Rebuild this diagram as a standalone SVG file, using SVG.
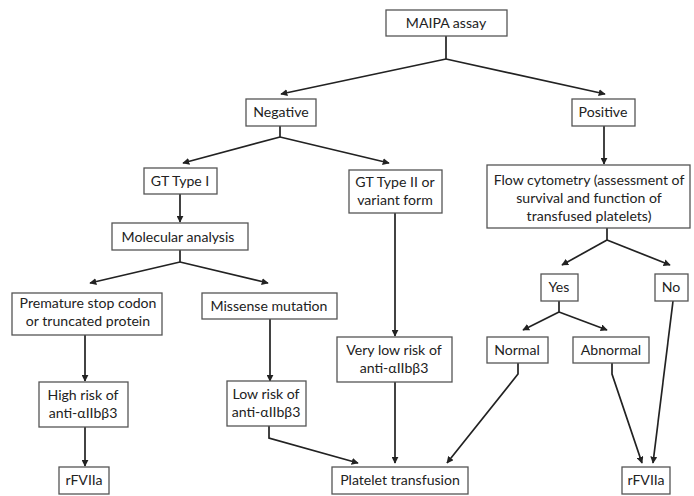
<svg xmlns="http://www.w3.org/2000/svg" width="694" height="496" viewBox="0 0 694 496">
<style>
.box{fill:#fff;stroke:#555;stroke-width:1.3}
.t{font-family:Lato,"Open Sans","Liberation Sans",sans-serif;font-size:14.1px;fill:#222;text-anchor:middle}
.c{fill:none;stroke:#222;stroke-width:1.7}
</style>
<defs>
<marker id="ah" viewBox="0 0 10 10" refX="9" refY="5" markerWidth="7" markerHeight="7" markerUnits="userSpaceOnUse" orient="auto">
<path d="M0,0 L10,5 L0,10 z" fill="#222"/>
</marker>
</defs>
<rect width="694" height="496" fill="#fff"/>
<g id="connectors">
<path class="c" d="M446,36 V59"/>
<path class="c" d="M446,59 L281,94" marker-end="url(#ah)"/>
<path class="c" d="M446,59 L605,94" marker-end="url(#ah)"/>
<path class="c" d="M280,126 V137"/>
<path class="c" d="M280,137 L183,163" marker-end="url(#ah)"/>
<path class="c" d="M280,137 L389,163" marker-end="url(#ah)"/>
<path class="c" d="M604,126 V164" marker-end="url(#ah)"/>
<path class="c" d="M607,228 V240"/>
<path class="c" d="M607,240 L562,265" marker-end="url(#ah)"/>
<path class="c" d="M607,240 L670,265" marker-end="url(#ah)"/>
<path class="c" d="M180,194 V222" marker-end="url(#ah)"/>
<path class="c" d="M180,250 V262"/>
<path class="c" d="M180,262 L90,283" marker-end="url(#ah)"/>
<path class="c" d="M180,262 L268,283" marker-end="url(#ah)"/>
<path class="c" d="M85,335 V381" marker-end="url(#ah)"/>
<path class="c" d="M85,427 V466" marker-end="url(#ah)"/>
<path class="c" d="M270,319 V381" marker-end="url(#ah)"/>
<path class="c" d="M269,426 V438 L358,463" marker-end="url(#ah)"/>
<path class="c" d="M395,213 V336" marker-end="url(#ah)"/>
<path class="c" d="M395,382 V463" marker-end="url(#ah)"/>
<path class="c" d="M559,301 V312"/>
<path class="c" d="M559,312 L523,330" marker-end="url(#ah)"/>
<path class="c" d="M559,312 L607,330" marker-end="url(#ah)"/>
<path class="c" d="M518,363 V374 L447,463" marker-end="url(#ah)"/>
<path class="c" d="M612,363 V374 L642,463" marker-end="url(#ah)"/>
<path class="c" d="M673,301 L653,463" marker-end="url(#ah)"/>
</g>
<g id="maipa"><rect class="box" x="386" y="10" width="121" height="26"/><text class="t" x="446" y="28">MAIPA assay</text></g>
<g id="negative"><rect class="box" x="246" y="99" width="70" height="27"/><text class="t" x="281" y="117">Negative</text></g>
<g id="positive"><rect class="box" x="572" y="99" width="63" height="27"/><text class="t" x="603" y="117">Positive</text></g>
<g id="gt1"><rect class="box" x="144" y="168" width="73" height="26"/><text class="t" x="180" y="186">GT Type I</text></g>
<g id="gt2"><rect class="box" x="349" y="170" width="93" height="43"/><text class="t" x="395" y="187">GT Type II or</text><text class="t" x="395" y="205">variant form</text></g>
<g id="flow"><rect class="box" x="487" y="165" width="203" height="63"/><text class="t" x="589" y="185">Flow cytometry (assessment of</text><text class="t" x="589" y="203">survival and function of</text><text class="t" x="589" y="221">transfused platelets)</text></g>
<g id="molecular"><rect class="box" x="112" y="223" width="136" height="27"/><text class="t" x="178" y="242">Molecular analysis</text></g>
<g id="premature"><rect class="box" x="12" y="293" width="150" height="42"/><text class="t" x="88" y="308">Premature stop codon</text><text class="t" x="88" y="326">or truncated protein</text></g>
<g id="missense"><rect class="box" x="202" y="293" width="135" height="26"/><text class="t" x="269" y="311">Missense mutation</text></g>
<g id="highrisk"><rect class="box" x="39" y="382" width="89" height="45"/><text class="t" x="83" y="400">High risk of</text><text class="t" x="83" y="418">anti-αIIbβ3</text></g>
<g id="lowrisk"><rect class="box" x="227" y="381" width="79" height="45"/><text class="t" x="266" y="399">Low risk of</text><text class="t" x="266" y="417">anti-αIIbβ3</text></g>
<g id="verylow"><rect class="box" x="337" y="337" width="115" height="45"/><text class="t" x="394" y="355">Very low risk of</text><text class="t" x="394" y="373">anti-αIIbβ3</text></g>
<g id="yes"><rect class="box" x="541" y="274" width="37" height="27"/><text class="t" x="559" y="292">Yes</text></g>
<g id="no"><rect class="box" x="655" y="274" width="33" height="27"/><text class="t" x="671" y="292">No</text></g>
<g id="normal"><rect class="box" x="487" y="337" width="61" height="26"/><text class="t" x="517" y="355">Normal</text></g>
<g id="abnormal"><rect class="box" x="573" y="337" width="76" height="26"/><text class="t" x="611" y="355">Abnormal</text></g>
<g id="rfviia-left"><rect class="box" x="59" y="467" width="50" height="27"/><text class="t" x="84" y="485">rFVIIa</text></g>
<g id="platelet"><rect class="box" x="332" y="467" width="136" height="27"/><text class="t" x="400" y="485">Platelet transfusion</text></g>
<g id="rfviia-right"><rect class="box" x="622" y="467" width="48" height="27"/><text class="t" x="646" y="485">rFVIIa</text></g>
</svg>
